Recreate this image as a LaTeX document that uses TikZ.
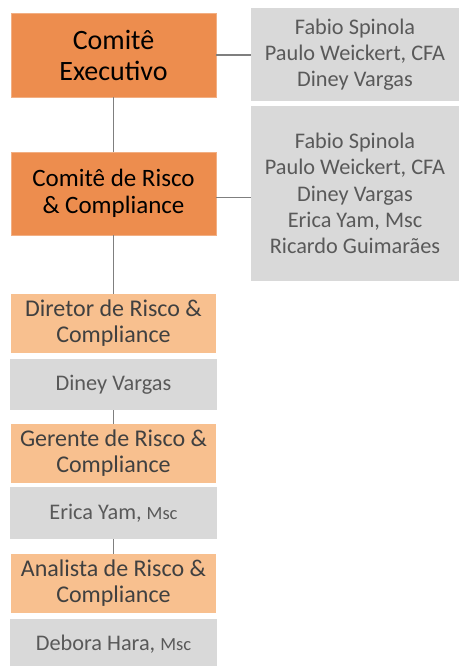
\documentclass[tikz,border=0pt]{standalone}
\usepackage{fontspec}
\setmainfont{Carlito}
\definecolor{orangeA}{HTML}{ED8D4E}
\definecolor{peach}{HTML}{F8C08F}
\definecolor{grayA}{HTML}{D9D9D9}
\definecolor{grayT}{HTML}{595959}
\definecolor{darkT}{HTML}{404040}
\definecolor{lineC}{HTML}{7F7F7F}
\begin{document}
\begin{tikzpicture}[x=1pt,y=-1pt,
  boxA/.style={fill=orangeA, draw=orangeA!70!white, line width=0.6pt, minimum width=205pt, align=center, text=black, inner sep=0pt},
  boxP/.style={fill=peach, minimum width=205pt, minimum height=59pt, align=center, text=darkT, inner sep=0pt, font=\fontsize{24}{26}\selectfont},
  boxG/.style={fill=grayA, minimum width=208pt, align=center, text=grayT, inner sep=0pt, font=\fontsize{22.3}{26.3}\selectfont},
  boxS/.style={fill=grayA, minimum width=207pt, align=center, text=grayT, inner sep=0pt, font=\fontsize{22.3}{26}\selectfont},
  msc/.style={font=\fontsize{18.5}{20}\selectfont},
  conn/.style={draw=lineC, line width=1.5pt}]
\useasboundingbox (0,0) rectangle (459,666);
\node[boxA, minimum height=84pt, font=\fontsize{28}{31}\selectfont] (ce) at (113.5,55) {Comitê\\Executivo};
\node[boxG, minimum height=93pt] (g1) at (355,54.5) {Fabio Spinola\\Paulo Weickert, CFA\\Diney Vargas};
\node[boxA, minimum height=83pt, font=\fontsize{25}{27}\selectfont] (cr) at (113.5,193.5) {Comitê de Risco\\\& Compliance};
\node[boxG, minimum height=175pt] (g2) at (355,193.5) {Fabio Spinola\\Paulo Weickert, CFA\\Diney Vargas\\Erica Yam, Msc\\Ricardo Guimarães};
\node[boxP] (dir) at (113.5,323.5) {Diretor de Risco \&\\Compliance};
\node[boxS, minimum height=51pt] (dv) at (113.5,384.5) {Diney Vargas};
\node[boxP] (ger) at (113.5,453.5) {Gerente de Risco \&\\Compliance};
\node[boxS, minimum height=52pt] (ey) at (113.5,513) {Erica Yam, {\fontsize{18.5}{20}\selectfont Msc}};
\node[boxP] (ana) at (113.5,583.5) {Analista de Risco \&\\Compliance};
\node[boxS, minimum height=50pt] (dh) at (113.5,644) {Debora Hara, {\fontsize{18.5}{20}\selectfont Msc}};
\draw[conn] (ce.east) -- (ce.east -| g1.west);
\draw[conn] ([yshift=-4pt]cr.east) -- ([yshift=-4pt]cr.east -| g2.west);
\draw[conn] (ce.south) -- (cr.north);
\draw[conn] (cr.south) -- (dir.north);
\draw[conn] (dv.south) -- (ger.north);
\draw[conn] (ey.south) -- (ana.north);
\end{tikzpicture}
\end{document}
